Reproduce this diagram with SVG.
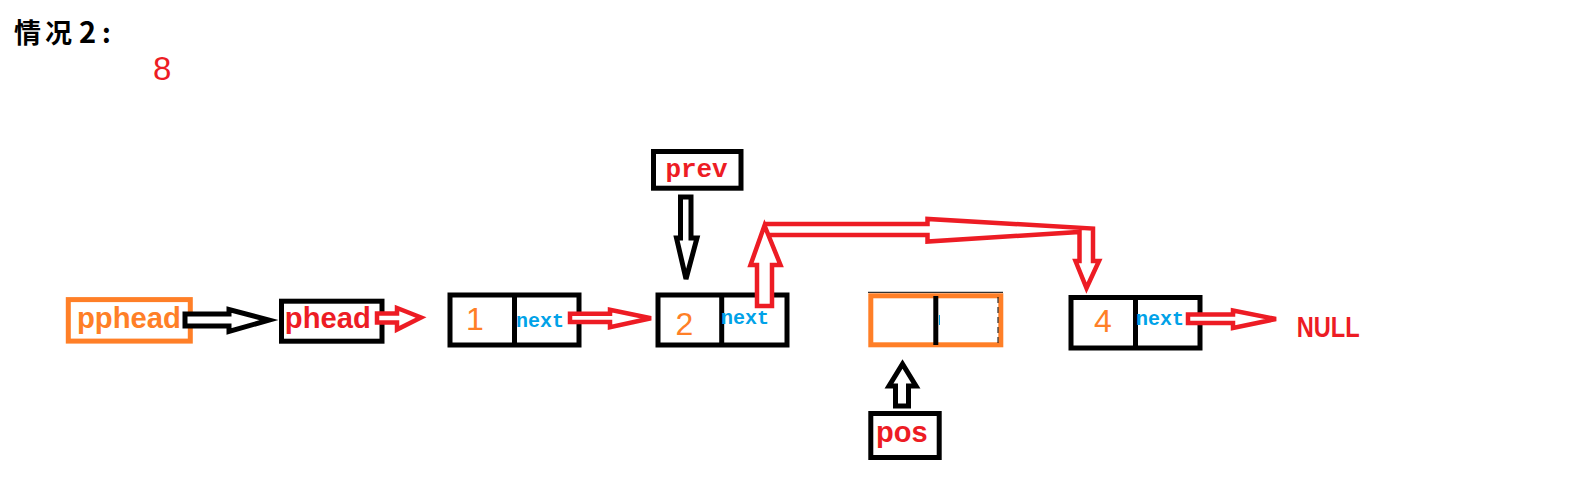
<svg xmlns="http://www.w3.org/2000/svg" width="1588" height="499" viewBox="0 0 1588 499">
<style>
.box{fill:#fff;stroke:#000;stroke-width:5}
.obox{fill:#fff;stroke:#ff7f27;stroke-width:5}
.div{stroke:#000;stroke-width:5}
.ra{fill:#fff;stroke:#ed1c24;stroke-width:4.5;stroke-linejoin:miter}
.ka{fill:#fff;stroke:#000;stroke-width:5;stroke-linejoin:miter}
.lbl{font-family:"Liberation Sans",Arial,sans-serif;font-weight:bold;font-size:29px}
.num{font-family:"Liberation Sans",Arial,sans-serif;font-size:32px;fill:#ff7f27;text-anchor:middle}
.nx{font-family:"Liberation Mono","Courier New",monospace;font-weight:bold;font-size:20px;fill:#00a2e8}
</style>
<rect width="1588" height="499" fill="#fff"/>
<g id="title">
<text font-family="'Noto Sans CJK SC',sans-serif" font-weight="bold" font-size="27" fill="#000" y="42.5"><tspan x="14">情</tspan><tspan x="45">况</tspan><tspan x="79" font-size="29">2</tspan><tspan x="102">:</tspan></text>
</g>
<g id="label-8">
<text x="153" y="80" font-family="'Liberation Sans',Arial,sans-serif" font-size="33" fill="#ed1c24">8</text>
</g>
<g id="pphead">
<rect class="obox" x="68.3" y="299.6" width="122" height="41.5" stroke-width="4.7"/>
<text class="lbl" x="77" y="328" fill="#ff7f27" textLength="104" lengthAdjust="spacingAndGlyphs">pphead</text>
</g>
<g id="phead">
<rect class="box" x="281.5" y="301.2" width="100.5" height="40" stroke-width="4.5"/>
<text class="lbl" x="284.8" y="327.5" fill="#ed1c24" textLength="86" lengthAdjust="spacingAndGlyphs">phead</text>
</g>
<g id="node1">
<rect class="box" x="450" y="295" width="129" height="50"/>
<line class="div" x1="514.5" y1="295" x2="514.5" y2="345"/>
<text class="num" x="475" y="330">1</text>
<text class="nx" x="516" y="326.5">next</text>
</g>
<g id="node2">
<rect class="box" x="658" y="295" width="129" height="50"/>
<line class="div" x1="721.7" y1="295" x2="721.7" y2="345"/>
<text class="num" x="684.5" y="335">2</text>
<text class="nx" x="721" y="323.5">next</text>
</g>
<g id="node3">
<line x1="868" y1="292.3" x2="1003" y2="292.3" stroke="#000" stroke-width="1"/>
<rect class="obox" x="870.8" y="295.8" width="130" height="49"/>
<line class="div" x1="935.8" y1="296" x2="935.8" y2="345"/>
<line x1="998" y1="297" x2="998" y2="343" stroke="#000" stroke-width="1" stroke-dasharray="6,4"/>
<line x1="939.5" y1="315" x2="939.5" y2="325" stroke="#00a2e8" stroke-width="1"/>
</g>
<g id="node4">
<rect class="box" x="1071" y="297.5" width="129" height="50.5"/>
<line class="div" x1="1135.5" y1="297.5" x2="1135.5" y2="348"/>
<text class="num" x="1103" y="331.7">4</text>
<text class="nx" x="1136" y="325">next</text>
</g>
<g id="prev">
<rect class="box" x="653.5" y="151.5" width="87.5" height="36.7"/>
<text x="665.5" y="177" font-family="'Liberation Mono','Courier New',monospace" font-weight="bold" font-size="26" fill="#ed1c24" textLength="62" lengthAdjust="spacing">prev</text>
</g>
<g id="pos">
<rect class="box" x="870.8" y="413.5" width="68.4" height="44"/>
<text class="lbl" x="876" y="441.7" font-size="28" fill="#ed1c24">pos</text>
</g>
<g id="null">
<text x="1296.7" y="337.3" font-family="'Liberation Sans',Arial,sans-serif" font-weight="bold" font-size="30" fill="#ed1c24" textLength="63" lengthAdjust="spacingAndGlyphs">NULL</text>
</g>
<g id="connectors">
<polygon class="ka" points="185,314 229,314 229,309.5 269,320 229,331.5 229,326 185,326"/>
<polygon class="ra" points="377,313.5 397,313.5 397,308 421,317.5 397,329.5 397,322.5 377,322.5"/>
<polygon class="ra" points="570,313.7 610,313.7 610,309.7 651,318.3 610,327.3 610,322 570,322"/>
<polygon class="ka" points="680.5,197 691,197 691,238 697,238 686,279 676.5,238 680.5,238"/>
<path class="ra" d="M764.5,224 L927.5,224 L927.5,219 L1093,228.5 L1093,261 L1099,261 L1086.5,288 L1075.5,261 L1079.5,261 L1079.5,232 L927.5,241.5 L927.5,235 L768.5,235"/>
<polygon class="ra" points="757,306 757,265 750.5,265 764.5,225.5 780.5,265 772,265 772,306"/>
<polygon class="ka" points="895.5,406 895.5,386 889,386 902.5,364 916,386 908.5,386 908.5,406"/>
<polygon class="ra" points="1188,314.5 1233,314.5 1233,310.5 1276,319 1233,328 1233,323 1188,323"/>
</g>
</svg>
